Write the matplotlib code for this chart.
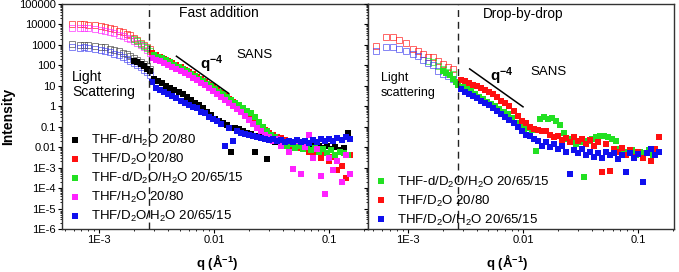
import numpy as np
import matplotlib
matplotlib.use('Agg')
import matplotlib.pyplot as plt
from matplotlib.ticker import FixedLocator, FixedFormatter, LogLocator, NullFormatter

plt.rcParams['font.family'] = ['Liberation Sans', 'DejaVu Sans']
plt.rcParams['mathtext.fontset'] = 'custom'
plt.rcParams['mathtext.rm'] = 'Liberation Sans'
plt.rcParams['mathtext.bf'] = 'Liberation Sans:bold'
plt.rcParams['mathtext.it'] = 'Liberation Sans:italic'

# ---- light scattering q values (left panel) ----
q_ls = [5.8e-4, 6.8e-4, 7.4e-4, 8.0e-4, 9.2e-4, 1.04e-3, 1.13e-3, 1.25e-3, 1.35e-3, 1.5e-3,
        1.6e-3, 1.75e-3, 1.85e-3, 2.0e-3, 2.15e-3, 2.3e-3, 2.45e-3, 2.6e-3, 2.75e-3]
q_ls_tail = [2.0e-3, 2.15e-3, 2.3e-3, 2.45e-3, 2.6e-3, 2.75e-3]

ls_red = [10500, 10000, 10200, 9800, 9300, 8500, 7800, 6800, 6000, 5000,
          4300, 3500, 3000, 2200, 1700, 1300, 1000, 780, 600]
ls_pink = [7000, 6800, 7000, 6600, 6200, 5600, 5000, 4400, 3800, 3200,
           2700, 2200, 1900, 1500, 1200, 950, 750, 560, 420]
ls_black = [1050, 950, 1000, 950, 900, 820, 750, 650, 570, 480,
            420, 340, 290, 230, 185, 145, 115, 90, 70]
ls_blue = [800, 720, 780, 700, 650, 590, 520, 450, 380, 310,
           260, 210, 170, 135, 105, 80, 60, 45, 33]
ls_green_tail = [1900, 1500, 1150, 880, 680, 520]
black_fill_tail = [170, 140, 115, 90, 70, 52]

# ---- SANS q grids ----
q_a = [0.0029, 0.00314, 0.0034, 0.00369, 0.004, 0.00434, 0.0047, 0.0051, 0.00553, 0.006,
       0.0065, 0.00704, 0.00763, 0.00827, 0.00897, 0.00972, 0.01054, 0.01142, 0.01238, 0.0134,
       0.01455, 0.01577, 0.0171, 0.01853, 0.0201, 0.0218, 0.0236, 0.0256, 0.0277, 0.03,
       0.0326, 0.0353, 0.0383, 0.0415, 0.045, 0.0487, 0.0528, 0.0573, 0.0621, 0.0673,
       0.073, 0.0791, 0.0857, 0.0929, 0.1007, 0.1092, 0.1183, 0.1283, 0.139, 0.1507]
q_b = [0.00302, 0.00327, 0.00354, 0.00384, 0.00417, 0.00452, 0.0049, 0.00531, 0.00576, 0.00624,
       0.00677, 0.00734, 0.00795, 0.00862, 0.00934, 0.01013, 0.01098, 0.0119, 0.0129, 0.01398,
       0.01515, 0.01643, 0.0178, 0.0193, 0.0209, 0.0227, 0.0246, 0.0266, 0.0289, 0.0313,
       0.0339, 0.0368, 0.0399, 0.0432, 0.0468, 0.0508, 0.055, 0.0596, 0.0646, 0.07,
       0.0759, 0.0823, 0.0892, 0.0967, 0.1048, 0.1136, 0.1232, 0.1335, 0.1447]

# fast addition (left)
fa_black = [22, 17, 13, 10, 8, 6.5, 5, 3.8, 2.8, 2.1,
            1.5, 1.1, 0.8, 0.55, 0.38, 0.25, 0.2, 0.16, 0.12, 0.006,
            0.09, 0.075, 0.06, 0.05, 0.042, 0.006, 0.035, 0.03, 0.0025, 0.025,
            0.018, 0.02, 0.015, 0.017, 0.013, 0.016, 0.012, 0.014, 0.011, 0.013,
            0.01, 0.012, 0.009, 0.011, 0.008, 0.01, 0.007, 0.009, 0.05]
fa_red = [400, 330, 270, 215, 170, 135, 105, 80, 62, 48,
          37, 28, 21, 15.5, 11.5, 8.5, 6.2, 4.5, 3.2, 2.3,
          1.6, 1.1, 0.75, 0.5, 0.33, 0.21, 0.14, 0.095, 0.068, 0.05,
          0.04, 0.032, 0.028, 0.022, 0.018, 0.012, 0.015, 0.009, 0.011, 0.006,
          0.0045, 0.008, 0.003, 0.005, 0.0022, 0.0035, 0.0008, 0.0012, 0.0003, 0.004]
fa_green = [330, 270, 220, 175, 140, 110, 86, 66, 51, 39,
            30, 22, 17, 12.5, 9.3, 7, 5.2, 3.8, 2.8, 2.0,
            1.5, 1.1, 0.8, 0.6, 0.45, 0.3, 0.17, 0.1, 0.06, 0.04,
            0.03, 0.022, 0.018, 0.012, 0.015, 0.009, 0.011, 0.008, 0.01, 0.007,
            0.009, 0.006, 0.008, 0.005, 0.007, 0.004, 0.006, 0.005, 0.004]
fa_pink = [220, 190, 160, 130, 105, 85, 68, 54, 42, 33,
           25, 19, 14, 10.5, 7.7, 5.6, 4.1, 3.0, 2.1, 1.5,
           1.05, 0.72, 0.5, 0.34, 0.22, 0.14, 0.09, 0.06, 0.04, 0.03,
           0.02, 0.025, 0.012, 0.018, 0.006, 0.0009, 0.02, 0.0005, 0.01, 0.04,
           0.003, 0.008, 0.0004, 0.00005, 0.003, 0.0008, 0.002, 0.0002, 0.004, 0.0005]
fa_blue = [15, 8, 6.5, 5, 4, 3.2, 2.4, 1.9, 1.5, 1.2,
           0.95, 0.8, 0.55, 0.45, 0.3, 0.25, 0.2, 0.14, 0.011, 0.09,
           0.02, 0.06, 0.05, 0.045, 0.04, 0.035, 0.03, 0.028, 0.025, 0.022,
           0.025, 0.02, 0.023, 0.018, 0.021, 0.017, 0.022, 0.018, 0.02, 0.016,
           0.022, 0.018, 0.024, 0.02, 0.026, 0.021, 0.028, 0.022, 0.03, 0.025]

# drop-by-drop (right)
q_ls_r = [5.3e-4, 6.5e-4, 7.4e-4, 8.45e-4, 9.7e-4, 1.1e-3, 1.22e-3, 1.35e-3, 1.49e-3, 1.65e-3,
          1.82e-3, 2.0e-3, 2.23e-3, 2.46e-3]
q_ls_r_tail = [1.49e-3, 1.65e-3, 1.82e-3, 2.0e-3, 2.23e-3, 2.46e-3]
ls_r_red = [910, 2350, 2350, 1740, 1200, 630, 525, 360, 270, 250, 170, 117, 81, 67]
ls_r_blue = [525, 830, 830, 630, 525, 360, 280, 190, 130, 100, 55, 38, 31, 21]
ls_r_green = [170, 140, 90, 70, 50, 40]
dd_green_tail = [55, 42, 32, 22, 15, 11]

dd_green = [9, 7, 5.5, 4, 3, 2.3, 1.7, 1.3, 1.0, 0.75,
            0.55, 0.4, 0.28, 0.15, 0.12, 0.08, 0.09, 0.07, 0.0068, 0.25,
            0.3, 0.25, 0.28, 0.2, 0.12, 0.05, 0.025, 0.02, 0.015, 0.018,
            0.00035, 0.02, 0.025, 0.03, 0.035, 0.035, 0.03, 0.025, 0.02, 0.008,
            0.006, 0.005, 0.007, 0.004, 0.006, 0.005, 0.007, 0.004, 0.006]
dd_red = [20, 17, 14, 11, 9.5, 8, 6.5, 5, 3.8, 2.8,
          1.9, 1.4, 1.0, 0.6, 0.35, 0.2, 0.15, 0.1, 0.08, 0.07,
          0.06, 0.065, 0.04, 0.03, 0.035, 0.022, 0.028, 0.018, 0.03, 0.02,
          0.025, 0.015, 0.022, 0.012, 0.018, 0.0006, 0.014, 0.0007, 0.008, 0.006,
          0.009, 0.004, 0.007, 0.0035, 0.006, 0.003, 0.005, 0.0022, 0.008, 0.03]
dd_blue = [7, 5, 4, 3.2, 2.5, 1.9, 1.4, 1.1, 0.8, 0.6,
           0.42, 0.3, 0.22, 0.16, 0.1, 0.06, 0.04, 0.035, 0.025, 0.02,
           0.012, 0.018, 0.01, 0.014, 0.008, 0.011, 0.006, 0.0005, 0.007, 0.005,
           0.008, 0.004, 0.006, 0.0035, 0.005, 0.003, 0.006, 0.004, 0.005, 0.0025,
           0.004, 0.0006, 0.005, 0.003, 0.0045, 0.00019, 0.005, 0.008, 0.004, 0.006]

# q^-4 guide lines and the LS/SANS boundary
guide_left_q = [0.0047, 0.0134]
guide_left_i = [280, 4.24]
guide_right_q = [0.00344, 0.0100]
guide_right_i = [67, 0.94]
q_split = 0.0027

ytick_vals = [1e-6, 1e-5, 1e-4, 1e-3, 1e-2, 1e-1, 1, 10, 100, 1000, 10000, 100000]
ytick_labels = ['1E-6', '1E-5', '1E-4', '1E-3', '0.01', '0.1', '1', '10', '100', '1000', '10000', '100000']
xtick_vals = [1e-3, 1e-2, 1e-1]
xtick_labels = ['1E-3', '0.01', '0.1']

c_black = '#000000'
c_red = '#ff1010'
c_green = '#22e022'
c_pink = '#ff22ff'
c_blue = '#1010ee'

fig = plt.figure(figsize=(6.79, 2.72), dpi=100)
ax1 = fig.add_axes([62/679, 43/272, 306/679, 225/272])
ax2 = fig.add_axes([368/679, 43/272, 306/679, 225/272])

ms = 3.7


def hollow(ax, q, i, color):
    ax.plot(q, i, 's', ms=ms, mfc='none', mec=color, mew=0.6, alpha=0.75, ls='none')


def filled(ax, q, i, color, label=None):
    ax.plot(q, i, 's', ms=ms, color=color, mew=0, ls='none', label=label)


def style_axis(ax, xlim):
    ax.set_xscale('log')
    ax.set_yscale('log')
    ax.set_xlim(*xlim)
    ax.set_ylim(1e-6, 1e5)
    ax.yaxis.set_major_locator(FixedLocator(ytick_vals))
    ax.yaxis.set_minor_locator(LogLocator(base=10, subs=np.arange(2, 10), numticks=20))
    ax.yaxis.set_minor_formatter(NullFormatter())
    ax.xaxis.set_major_locator(FixedLocator(xtick_vals))
    ax.xaxis.set_major_formatter(FixedFormatter(xtick_labels))
    ax.xaxis.set_minor_locator(LogLocator(base=10, subs=np.arange(2, 10), numticks=20))
    ax.xaxis.set_minor_formatter(NullFormatter())
    ax.tick_params(which='major', direction='out', length=3, width=0.8, labelsize=8, pad=1.5)
    ax.tick_params(which='minor', direction='out', length=1.6, width=0.6)
    for s in ax.spines.values():
        s.set_color('#333333')
        s.set_linewidth(1.0)
    ax.axvline(q_split, color='#222222', ls=(0, (5, 3.5)), lw=1.0)


legend_kw = dict(loc='lower left', frameon=False, fontsize=9.5, handlelength=1.0,
                 handletextpad=0.75, labelspacing=0.3, borderpad=0, borderaxespad=0)

# ---- left: fast addition ----
hollow(ax1, q_ls, ls_red, c_red)
hollow(ax1, q_ls, ls_pink, c_pink)
hollow(ax1, q_ls_tail, ls_green_tail, c_green)
hollow(ax1, q_ls, ls_black, '#444444')
hollow(ax1, q_ls, ls_blue, '#4040ee')
filled(ax1, q_ls_tail, black_fill_tail, c_black)
filled(ax1, q_b, fa_black, c_black, 'THF-d/H$_2$O 20/80')
filled(ax1, q_a, fa_red, c_red, 'THF/D$_2$O 20/80')
filled(ax1, q_b, fa_green, c_green, 'THF-d/D$_2$O/H$_2$O 20/65/15')
filled(ax1, q_a, fa_pink, c_pink, 'THF/H$_2$O 20/80')
filled(ax1, q_a, fa_blue, c_blue, 'THF/D$_2$O/H$_2$O 20/65/15')
ax1.plot(guide_left_q, guide_left_i, color='black', lw=1.1)
style_axis(ax1, (4.75e-4, 0.218))
ax1.yaxis.set_major_formatter(FixedFormatter(ytick_labels))
ax1.set_ylabel('Intensity', fontsize=10, fontweight='bold', labelpad=3)
ax1.set_xlabel('q (Å$^{\\mathbf{-1}}$)', fontsize=9.5, fontweight='bold', va='center')
ax1.xaxis.set_label_coords(0.506, -0.145)

ax1.text(0.514, 0.959, 'Fast addition', transform=ax1.transAxes, ha='center', va='center', fontsize=10)
ax1.text(0.628, 0.775, 'SANS', transform=ax1.transAxes, ha='center', va='center', fontsize=9.5)
ax1.text(0.45, 0.733, '$\\mathbf{q}^{\\mathbf{-4}}$', transform=ax1.transAxes, ha='left', va='center', fontsize=11)
ax1.text(0.033, 0.677, 'Light', transform=ax1.transAxes, ha='left', va='center', fontsize=10)
ax1.text(0.033, 0.607, 'Scattering', transform=ax1.transAxes, ha='left', va='center', fontsize=10)
ax1.legend(bbox_to_anchor=(0.0196, 0.02), **legend_kw)

# ---- right: drop-by-drop ----
hollow(ax2, q_ls_r, ls_r_red, c_red)
hollow(ax2, q_ls_r_tail, ls_r_green, c_green)
hollow(ax2, q_ls_r, ls_r_blue, '#4040ee')
filled(ax2, q_ls_tail, dd_green_tail, c_green)
filled(ax2, q_b, dd_green, c_green, 'THF-d/D$_2$O/H$_2$O 20/65/15')
filled(ax2, q_a, dd_red, c_red, 'THF/D$_2$O 20/80')
filled(ax2, q_a, dd_blue, c_blue, 'THF/D$_2$O/H$_2$O 20/65/15')
ax2.plot(guide_right_q, guide_right_i, color='black', lw=1.1)
style_axis(ax2, (4.5e-4, 0.205))
ax2.yaxis.set_major_formatter(NullFormatter())
ax2.set_xlabel('q (Å$^{\\mathbf{-1}}$)', fontsize=9.5, fontweight='bold', va='center')
ax2.xaxis.set_label_coords(0.454, -0.145)

ax2.text(0.506, 0.956, 'Drop-by-drop', transform=ax2.transAxes, ha='center', va='center', fontsize=9.8)
ax2.text(0.590, 0.696, 'SANS', transform=ax2.transAxes, ha='center', va='center', fontsize=9.5)
ax2.text(0.398, 0.681, '$\\mathbf{q}^{\\mathbf{-4}}$', transform=ax2.transAxes, ha='left', va='center', fontsize=11)
ax2.text(0.041, 0.671, 'Light', transform=ax2.transAxes, ha='left', va='center', fontsize=9)
ax2.text(0.041, 0.603, 'scattering', transform=ax2.transAxes, ha='left', va='center', fontsize=9)
ax2.legend(bbox_to_anchor=(0.0196, 0.004), **legend_kw)

fig.savefig('out.png', dpi=100)
